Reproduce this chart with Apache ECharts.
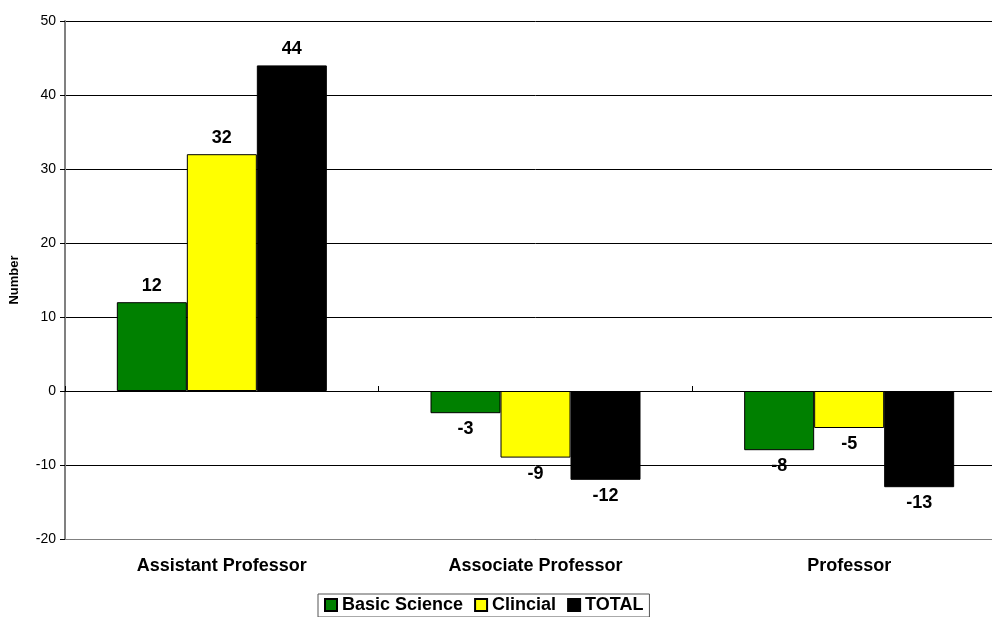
<!DOCTYPE html>
<html>
<head>
<meta charset="utf-8">
<script src="https://cdn.jsdelivr.net/npm/echarts@6/dist/echarts.min.js"></script>
<style>
  html, body { margin: 0; padding: 0; background: #fff; overflow: hidden; }
  #chart { width: 1010px; height: 617px; }
</style>
</head>
<body>
<div id="chart"></div>
<script>
var categories = ['Assistant Professor', 'Associate Professor', 'Professor'];
var basicScience = [12, -3, -8];
var clinical = [32, -9, -5];
var total = [44, -12, -13];

var chartDom = document.getElementById('chart');
var myChart = echarts.init(chartDom);

function withLabels(values) {
  return values.map(function (v) {
    return { value: v, label: { position: v < 0 ? 'bottom' : 'top' } };
  });
}

function barSeries(name, values, color) {
  return {
    name: name,
    type: 'bar',
    xAxisIndex: 0,
    barWidth: 70,
    barGap: '0%',
    data: withLabels(values),
    itemStyle: { color: color, borderColor: '#000', borderWidth: 1 },
    label: {
      show: true,
      distance: 7,
      fontFamily: 'Liberation Sans, Arial, sans-serif',
      fontWeight: 'bold',
      fontSize: 18,
      color: '#000'
    }
  };
}

var option = {
  backgroundColor: '#fff',
  animation: false,
  textStyle: { fontFamily: 'Liberation Sans, Arial, sans-serif' },
  grid: { left: 64, top: 21, width: 942, height: 518 },
  legend: {
    top: 594,
    left: 318,
    itemWidth: 12,
    itemHeight: 12,
    itemGap: 11,
    padding: [2, 6, 3, 6],
    borderColor: '#555',
    borderWidth: 1,
    icon: 'rect',
    textStyle: { fontWeight: 'bold', fontSize: 18, color: '#000' },
    data: ['Basic Science', 'Clincial', 'TOTAL']
  },
  xAxis: [
    {
      type: 'category',
      data: categories,
      position: 'bottom',
      axisLine: { onZero: false, lineStyle: { color: '#808080' } },
      axisTick: { show: false },
      axisLabel: { fontWeight: 'bold', fontSize: 18, color: '#000', margin: 18 }
    },
    {
      type: 'category',
      data: categories,
      position: 'bottom',
      axisLine: { onZero: true, lineStyle: { color: '#000' } },
      axisTick: { show: true, inside: true, length: 5, lineStyle: { color: '#000' } },
      axisLabel: { show: false }
    }
  ],
  yAxis: {
    type: 'value',
    min: -20,
    max: 50,
    interval: 10,
    name: 'Number',
    nameLocation: 'middle',
    nameGap: 44,
    nameTextStyle: { fontWeight: 'bold', fontSize: 13, color: '#000' },
    axisLine: { show: true, lineStyle: { color: '#808080', width: 2 } },
    axisTick: { show: true, length: 5, lineStyle: { color: '#000' } },
    axisLabel: { fontSize: 14, color: '#000', margin: 9 },
    splitLine: { show: true, lineStyle: { color: '#000', width: 1 } }
  },
  series: [
    barSeries('Basic Science', basicScience, '#008000'),
    barSeries('Clincial', clinical, '#ffff00'),
    barSeries('TOTAL', total, '#000000')
  ]
};

option && myChart.setOption(option);

window.addEventListener('resize', function () {
  myChart.resize();
});
</script>
</body>
</html>
